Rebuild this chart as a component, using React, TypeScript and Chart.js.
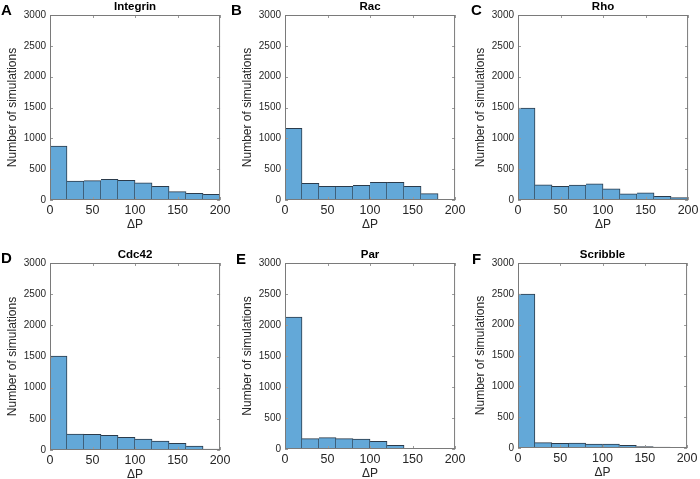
import React, { useEffect, useRef } from "react";
import { Chart, registerables } from "chart.js";

Chart.register(...registerables);

// ---------------- data ----------------
const binCenters = [10, 30, 50, 70, 90, 110, 130, 150, 170, 190];
const panelTitles = ["Integrin", "Rac", "Rho", "Cdc42", "Par", "Scribble"];
const panelLetters = ["A", "B", "C", "D", "E", "F"];
const integrinCounts = [875, 305, 315, 335, 320, 280, 222, 135, 108, 92];
const racCounts = [1162, 270, 222, 222, 238, 286, 286, 222, 103, 0];
const rhoCounts = [1492, 248, 221, 242, 264, 183, 102, 118, 59, 38];
const cdc42Counts = [1508, 256, 250, 234, 202, 176, 144, 107, 64, 16];
const parCounts = [2129, 167, 183, 167, 161, 124, 59, 3, 0, 0];
const scribbleCounts = [2497, 86, 76, 81, 65, 65, 43, 22, 16, 11];
const xAxisLabel = "ΔP";
const yAxisLabel = "Number of simulations";
const xRange = [0, 200];
const xStep = 50;
const yRange = [0, 3000];
const yStep = 500;

const allCounts = [integrinCounts, racCounts, rhoCounts, cdc42Counts, parCounts, scribbleCounts];

// ---------------- layout / style ----------------
const FONT = "'Liberation Sans', Arial, Helvetica, sans-serif";
const LAYOUT = [
  { L: 50, T: 15, R: 222, B: 200, lx: 1, ly: 2 },
  { L: 285, T: 15, R: 457, B: 200, lx: 231, ly: 2 },
  { L: 518, T: 15, R: 690, B: 200, lx: 471, ly: 2 },
  { L: 50, T: 263, R: 222, B: 450, lx: 1, ly: 250 },
  { L: 285, T: 263, R: 457, B: 449, lx: 236, ly: 251 },
  { L: 518, T: 263, R: 689, B: 448, lx: 472, ly: 251 },
];
const YW = 50; // y-axis box width
const TOPH = 22; // title box height
const XH = 32; // x-axis box height
const RPAD = 12;

const BAR_FILL = "rgb(99,168,216)";
const BAR_EDGE = "#2b3b4b";
const BOX_COLOR = "#7a7a7a";
const TICK_COLOR = "#9a9a9a";
const TEXT_COLOR = "#262626";

const framePlugin = {
  id: "frame",
  afterDatasetsDraw(chart: any) {
    const { ctx, chartArea, scales } = chart;
    const { left, top, right, bottom } = chartArea;
    const xs = scales.x;
    const ys = scales.y;
    ctx.save();
    ctx.lineWidth = 1;
    ctx.strokeStyle = TICK_COLOR;
    ctx.beginPath();
    ys.ticks.forEach((t: any) => {
      const py = Math.round(ys.getPixelForValue(t.value)) + 0.5;
      ctx.moveTo(left, py);
      ctx.lineTo(left + 3, py);
      ctx.moveTo(right - 3, py);
      ctx.lineTo(right, py);
    });
    xs.ticks.forEach((t: any) => {
      const px = Math.round(xs.getPixelForValue(t.value)) + 0.5;
      ctx.moveTo(px, bottom);
      ctx.lineTo(px, bottom - 3);
      ctx.moveTo(px, top);
      ctx.lineTo(px, top + 3);
    });
    ctx.stroke();
    ctx.strokeStyle = BOX_COLOR;
    ctx.strokeRect(left + 0.5, top + 0.5, right - left - 1, bottom - top - 1);
    ctx.restore();
  },
};

function Panel({ idx }: { idx: number }) {
  const ref = useRef<HTMLCanvasElement>(null);
  const lay = LAYOUT[idx];
  const w = lay.R - lay.L + YW + RPAD;
  const h = lay.B - lay.T + TOPH + XH;

  useEffect(() => {
    if (!ref.current) return;
    const counts = allCounts[idx];
    const chart = new Chart(ref.current, {
      type: "bar",
      data: {
        datasets: [
          {
            data: binCenters.map((x, i) => ({ x, y: counts[i] })),
            backgroundColor: BAR_FILL,
            borderColor: BAR_EDGE,
            borderWidth: { top: 1, right: 1, left: 0, bottom: 0 },
            borderSkipped: false,
            barPercentage: 1,
            categoryPercentage: 1,
            grouped: false,
          } as any,
        ],
      },
      plugins: [framePlugin],
      options: {
        responsive: false,
        maintainAspectRatio: false,
        animation: false,
        events: [],
        layout: { padding: { left: 0, right: RPAD, top: 0, bottom: 0 } },
        plugins: {
          legend: { display: false },
          tooltip: { enabled: false },
          title: {
            display: true,
            text: panelTitles[idx],
            fullSize: false,
            color: "#000",
            font: { family: FONT, size: 11.5, weight: "bold" },
            padding: { top: 6.6, bottom: 1.6 },
          },
        },
        scales: {
          x: {
            type: "linear",
            min: xRange[0],
            max: xRange[1],
            offset: false,
            grid: { display: false, drawTicks: false },
            border: { display: false },
            ticks: {
              stepSize: xStep,
              padding: 3.5,
              color: TEXT_COLOR,
              font: { family: FONT, size: 12.5 },
              maxRotation: 0,
              callback: (v: any) => String(v),
            },
            title: {
              display: true,
              text: xAxisLabel,
              color: TEXT_COLOR,
              font: { family: FONT, size: 12 },
              padding: { top: 0, bottom: 0 },
            },
            afterFit: (s: any) => {
              s.height = XH;
            },
          },
          y: {
            type: "linear",
            min: yRange[0],
            max: yRange[1],
            grid: { display: false, drawTicks: false },
            border: { display: false },
            ticks: {
              stepSize: yStep,
              padding: 4,
              color: TEXT_COLOR,
              font: { family: FONT, size: 10 },
              callback: (v: any) => String(v),
            },
            title: {
              display: true,
              text: yAxisLabel,
              color: TEXT_COLOR,
              font: { family: FONT, size: 12 },
              padding: { top: 5.8, bottom: 0 },
            },
            afterFit: (s: any) => {
              s.width = YW;
            },
          },
        },
      } as any,
    });
    return () => chart.destroy();
  }, [idx]);

  return (
    <>
      <canvas
        ref={ref}
        width={w}
        height={h}
        style={{
          position: "absolute",
          left: lay.L - YW,
          top: lay.T - TOPH,
          width: w,
          height: h,
        }}
      />
      <div
        style={{
          position: "absolute",
          left: lay.lx,
          top: lay.ly,
          font: `bold 15px ${FONT}`,
          lineHeight: "15px",
          color: "#000",
        }}
      >
        {panelLetters[idx]}
      </div>
    </>
  );
}

export default function App() {
  return (
    <div
      style={{
        position: "absolute",
        left: 0,
        top: 0,
        width: 700,
        height: 479,
        background: "#fff",
        overflow: "hidden",
      }}
    >
      {panelTitles.map((_, i) => (
        <Panel key={i} idx={i} />
      ))}
    </div>
  );
}
